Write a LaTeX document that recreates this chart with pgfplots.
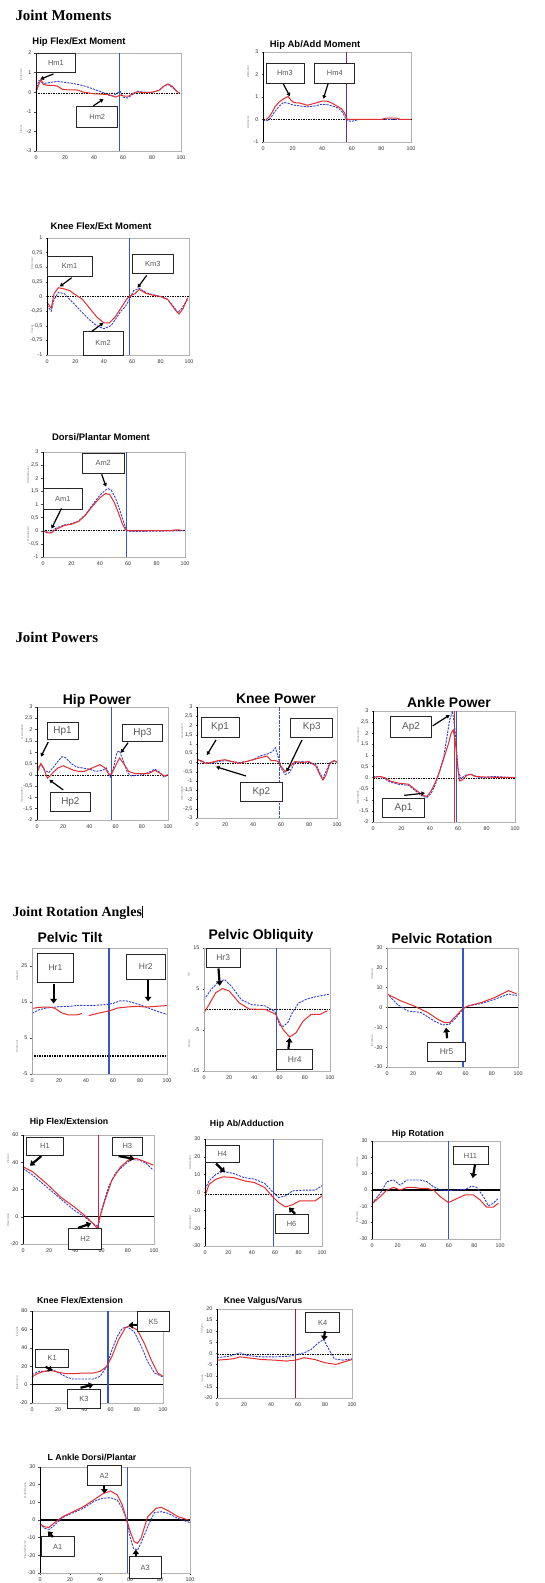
\documentclass[border=0pt]{standalone}
\usepackage{pgfplots}
\pgfplotsset{compat=1.18}
\usepackage{fontspec}
\setmainfont{Liberation Sans}
\newfontfamily\serifb{Liberation Serif}
\usetikzlibrary{arrows.meta}

\definecolor{cred}{RGB}{228,45,45}
\definecolor{cblue}{RGB}{50,60,210}
\definecolor{vblue}{RGB}{55,85,200}
\definecolor{vpurp}{RGB}{110,40,130}
\definecolor{vdred}{RGB}{160,25,65}
\definecolor{vcrim}{RGB}{205,35,65}

\newcommand\tickf{\fontsize{5.4}{5.4}\selectfont}
\newcommand\annf{\fontsize{7.5}{8}\selectfont}
\newcommand\sidef{\fontsize{3}{3}\selectfont}
\newcommand\ttlS{\bfseries\fontsize{9.5}{10}\selectfont}
\newcommand\ttlA{\bfseries\fontsize{8.8}{9}\selectfont}
\newcommand\ttlB{\bfseries\fontsize{14}{14}\selectfont}
\newcommand\secf{\serifb\bfseries\fontsize{15}{15}\selectfont}

\pgfplotsset{
 panel/.style={scale only axis, clip=false, xmin=0, xmax=100, xtick={0,20,40,60,80,100},
  tick pos=left, tick align=outside, major tick length=1.5bp,
  tick style={black!70, line width=0.4bp},
  axis line style={black!30, line width=0.6bp},
  ticklabel style={font=\tickf, text=black!80},
  xticklabel style={yshift=0.5bp}, yticklabel style={xshift=0.5bp},
  /pgf/number format/assume math mode=true, /pgf/number format/use comma,
  anchor=south west},
 rl/.style={cred, line width=1bp, no markers},
 bl/.style={cblue, line width=0.9bp, dash pattern=on 2.2bp off 1.1bp, no markers},
 zl/.style={black, line width=0.9bp, dash pattern=on 1.5bp off 1bp, no markers},
 zs/.style={black, line width=1.1bp, no markers},
 vl/.style={vblue, line width=1.1bp, no markers},
}
\tikzset{
 abox/.style={draw=black!85, line width=0.9bp, fill=white},
 albl/.style={font=\annf, text=black!65},
 ar/.style={-{Triangle[length=3.5bp,width=4bp]}, line width=1.2bp, black},
 bar/.style={-{Triangle[length=4.5bp,width=6.5bp]}, line width=2.2bp, black},
}
\newcommand\ann[5]{\draw[abox] (axis cs:#1,#2) rectangle (axis cs:#3,#4); \path (axis cs:#1,#2) -- node[albl]{#5} (axis cs:#3,#4);}
\newcommand\side[2]{\node[rotate=90,font=\sidef,text=black!50] at ([xshift=-15bp]rel axis cs:0,0.78) {#1}; \node[rotate=90,font=\sidef,text=black!50] at ([xshift=-15bp]rel axis cs:0,0.22) {#2};}
\newcommand\yax[1]{\draw[#1, line width=0.9bp] (rel axis cs:0,0) -- (rel axis cs:0,1);}

\begin{document}
\begin{tikzpicture}
\useasboundingbox (0bp,0bp) rectangle (545bp,1583bp);

% ---------- section headings ----------
\node[font=\secf, anchor=west] at (12bp,1568bp) {Joint Moments};
\node[font=\secf, anchor=west] at (12bp,946bp) {Joint Powers};
\node[font=\serifb\bfseries\fontsize{14}{14}\selectfont, anchor=west] at (9bp,670bp) {Joint Rotation Angles\rule[-1bp]{0.6bp}{12bp}};

% ---------- titles ----------
\node[font=\ttlS] at (79bp,1541bp) {Hip Flex/Ext Moment};
\node[font=\ttlS] at (315bp,1538bp) {Hip Ab/Add Moment};
\node[font=\ttlS] at (101bp,1357bp) {Knee Flex/Ext Moment};
\node[font=\ttlS] at (101bp,1146bp) {Dorsi/Plantar Moment};
\node[font=\ttlB] at (97bp,882bp) {Hip Power};
\node[font=\ttlB] at (276bp,884bp) {Knee Power};
\node[font=\ttlB] at (449bp,880bp) {Ankle Power};
\node[font=\ttlB] at (70bp,645bp) {Pelvic Tilt};
\node[font=\ttlB] at (261bp,647bp) {Pelvic Obliquity};
\node[font=\ttlB] at (442bp,644bp) {Pelvic Rotation};
\node[font=\ttlA] at (69bp,461bp) {Hip Flex/Extension};
\node[font=\ttlA] at (247bp,459bp) {Hip Ab/Adduction};
\node[font=\ttlA] at (418bp,449bp) {Hip Rotation};
\node[font=\ttlA] at (80bp,283bp) {Knee Flex/Extension};
\node[font=\ttlA] at (263bp,282bp) {Knee Valgus/Varus};
\node[font=\ttlA] at (92bp,126bp) {L Ankle Dorsi/Plantar};

% ---------- P1 Hip Flex/Ext Moment ----------
\begin{axis}[panel, at={(36bp,1432bp)}, width=145bp, height=98bp, ymin=-3, ymax=2, ytick={-3,-2,-1,0,1,2}]
\addplot[zl] coordinates {(0,-0.08) (100,-0.08)};
\addplot[vl] coordinates {(57.5,-3) (57.5,2)};
\addplot[bl] coordinates {(0,0.1) (2,0.6) (4,0.5) (6,0.45) (10,0.5) (15,0.55) (20,0.5) (25,0.45) (30,0.38) (35,0.28) (40,0.15) (45,0.02) (50,-0.15) (53,-0.2) (56,-0.05) (58,0.05) (60,-0.25) (63,-0.3) (66,-0.15) (70,0.05) (75,0) (80,-0.02) (85,0.1) (88,0.3) (91,0.4) (94,0.25) (97,0.05) (99,-0.05)};
\addplot[rl] coordinates {(0,0) (2,0.4) (3.5,0.65) (5,0.4) (8,0.35) (12,0.35) (15,0.3) (18,0.15) (22,0.12) (28,0.12) (33,0) (40,-0.08) (45,-0.1) (50,-0.12) (55,-0.25) (58,-0.15) (61,-0.2) (64,-0.2) (67,-0.05) (70,0.02) (74,-0.03) (80,0) (85,0.1) (88,0.3) (91,0.42) (94,0.3) (97,0.05) (99,-0.05)};
\yax{black}
\ann{0}{1}{27.5}{2}{Hm1}
\draw[ar] (axis cs:12,0.93) -- (axis cs:3,0.66);
\ann{28}{-0.75}{56.5}{-1.78}{Hm2}
\draw[ar] (axis cs:39.5,-0.7) -- (axis cs:46.5,-0.35);
\side{Extensor}{Flexor}
\end{axis}

% ---------- P2 Hip Ab/Add Moment ----------
\begin{axis}[panel, at={(263bp,1441bp)}, width=148bp, height=90bp, ymin=-1, ymax=3, ytick={-1,0,1,2,3}]
\addplot[zl] coordinates {(0,0) (100,0)};
\addplot[vpurp, line width=1.1bp] coordinates {(56.5,-1) (56.5,3)};
\addplot[bl] coordinates {(0,-0.05) (3,-0.05) (5,0.05) (8,0.35) (11,0.6) (14,0.76) (17,0.72) (20,0.65) (25,0.6) (30,0.56) (35,0.6) (40,0.68) (44,0.65) (48,0.58) (51,0.5) (54,0.3) (56.5,-0.05) (60,-0.08) (65,0) (100,0)};
\addplot[rl] coordinates {(2,0) (4,0.1) (6,0.3) (8,0.55) (11,0.78) (14,0.92) (17,1.02) (19,0.85) (21,0.75) (25,0.73) (30,0.63) (35,0.72) (40,0.82) (43,0.82) (46,0.75) (50,0.6) (53,0.48) (55,0.3) (57,0) (60,0) (80,0) (83,0.06) (90,0.06) (93,0) (100,0)};
\yax{black}
\ann{2}{1.62}{27.7}{2.51}{Hm3}
\draw[ar] (axis cs:13.7,1.58) -- (axis cs:18.2,1.03);
\ann{35}{1.62}{62}{2.51}{Hm4}
\draw[ar] (axis cs:44,1.6) -- (axis cs:40.8,0.92);
\side{Abductor}{Adductor}
\end{axis}

% ---------- P3 Knee Flex/Ext Moment ----------
\begin{axis}[panel, at={(47bp,1228bp)}, width=142bp, height=117bp, ymin=-1, ymax=1, ytick={-1,-0.75,-0.5,-0.25,0,0.25,0.5,0.75,1}]
\addplot[zl] coordinates {(0,0) (100,0)};
\addplot[vl] coordinates {(58,-1) (58,1)};
\addplot[bl] coordinates {(0,-0.15) (3,-0.25) (5,-0.05) (8,0.07) (12,0.05) (16,-0.05) (20,-0.15) (25,-0.28) (30,-0.4) (35,-0.5) (40,-0.55) (45,-0.5) (48,-0.4) (52,-0.25) (55,-0.18) (58,-0.05) (61,0.1) (65,0.14) (70,0.06) (75,0.03) (80,0) (85,-0.05) (90,-0.2) (92,-0.28) (95,-0.2) (99,-0.05)};
\addplot[rl] coordinates {(0,-0.1) (3,-0.2) (5,0.05) (8,0.15) (12,0.13) (16,0.1) (20,0.03) (25,-0.05) (30,-0.2) (35,-0.35) (40,-0.45) (44,-0.45) (48,-0.35) (52,-0.2) (56,-0.05) (58,0) (62,0.05) (65,0.12) (70,0.05) (75,0.02) (80,0) (85,-0.05) (90,-0.22) (93,-0.3) (96,-0.2) (99,-0.02)};
\yax{black}
\ann{0}{0.35}{31.7}{0.69}{Km1}
\draw[ar] (axis cs:17.4,0.32) -- (axis cs:9,0.17);
\ann{25.4}{-0.6}{53.5}{-1}{Km2}
\draw[ar] (axis cs:31.4,-0.6) -- (axis cs:39.7,-0.45);
\ann{60}{0.4}{89}{0.72}{Km3}
\draw[ar] (axis cs:70.2,0.36) -- (axis cs:63.8,0.15);
\side{Extensor}{Flexor}
\end{axis}

% ---------- P4 Dorsi/Plantar Moment ----------
\begin{axis}[panel, at={(43bp,1026bp)}, width=142bp, height=105bp, ymin=-1, ymax=3, ytick={-1,-0.5,0,0.5,1,1.5,2,2.5,3}]
\addplot[zl] coordinates {(0,0) (100,0)};
\addplot[vl] coordinates {(58.5,-1) (58.5,3)};
\addplot[bl] coordinates {(0,0) (3,-0.05) (6,-0.05) (9,0.1) (15,0.22) (20,0.27) (25,0.37) (30,0.62) (35,1.0) (40,1.35) (44,1.55) (46,1.6) (48,1.55) (51,1.25) (54,0.8) (57,0.3) (59,0) (62,-0.03) (100,0)};
\addplot[rl] coordinates {(0,0) (3,-0.08) (6,-0.08) (9,0.05) (15,0.2) (20,0.25) (25,0.35) (30,0.6) (35,0.95) (40,1.25) (44,1.42) (47,1.38) (50,1.1) (53,0.7) (56,0.25) (58,0.05) (60,0) (90,0) (93,0.03) (96,0.03) (98,0)};
\yax{black}
\ann{0}{0.83}{28}{1.6}{Am1}
\draw[ar] (axis cs:13,0.85) -- (axis cs:6,0.08);
\ann{27.5}{2.2}{57.3}{2.95}{Am2}
\draw[ar] (axis cs:41.3,2.15) -- (axis cs:44.4,1.68);
\side{Plantarflexor}{Dorsiflexor}
\end{axis}

\renewcommand\annf{\fontsize{10}{10}\selectfont}
% ---------- P5 Hip Power ----------
\begin{axis}[panel, at={(37bp,763bp)}, width=131bp, height=113bp, ymin=-2, ymax=3, ytick={-2,-1.5,-1,-0.5,0,0.5,1,1.5,2,2.5,3}]
\addplot[zl] coordinates {(0,-0.05) (100,-0.05)};
\addplot[vl, line width=1.4bp] coordinates {(57,-2) (57,3)};
\addplot[bl] coordinates {(0,0.3) (3,0.45) (6,0.2) (9,0.1) (12,0.3) (16,0.6) (19,0.8) (22,0.75) (26,0.5) (30,0.35) (35,0.3) (40,0.25) (45,0.15) (50,0.2) (53,0.3) (56,-0.1) (58,0.2) (61,1.0) (63,1.05) (66,0.6) (69,0.1) (72,-0.05) (80,0) (85,0.1) (90,0.25) (94,0.1) (97,-0.1) (100,0)};
\addplot[rl] coordinates {(0,0.1) (3,0.5) (5,0.3) (8,-0.15) (10,-0.05) (13,0.15) (16,0.3) (20,0.4) (24,0.3) (28,0.2) (32,0.15) (36,0.15) (40,0.25) (44,0.35) (48,0.45) (52,0.3) (55,0) (57,0.05) (60,0.4) (63,0.75) (66,0.5) (70,0.15) (75,0.05) (80,0.05) (85,0.05) (90,0.2) (93,0.1) (97,-0.05) (100,0)};
\yax{black}
\ann{7.6}{1.55}{31.3}{2.31}{Hp1}
\draw[ar] (axis cs:8.6,1.45) -- (axis cs:3,0.8);
\ann{10}{-0.8}{41}{-1.64}{Hp2}
\draw[ar] (axis cs:20,-0.67) -- (axis cs:9.4,-0.22);
\ann{65}{1.47}{96}{2.22}{Hp3}
\draw[ar] (axis cs:69.5,1.42) -- (axis cs:64,0.97);
\side{Generation}{Absorption}
\end{axis}

% ---------- P6 Knee Power ----------
\begin{axis}[panel, at={(197bp,765bp)}, width=140bp, height=111bp, ymin=-3, ymax=3, ytick={-3,-2.5,-2,-1.5,-1,-0.5,0,0.5,1,1.5,2,2.5,3}]
\addplot[zl] coordinates {(0,-0.05) (100,-0.05)};
\addplot[vl, line width=1.4bp, dash pattern=on 2bp off 0.6bp] coordinates {(59,-3) (59,3)};
\addplot[bl] coordinates {(0,0.2) (3,0.05) (6,0) (10,-0.05) (15,0.05) (20,0.1) (25,0.05) (30,0) (35,0.05) (40,0.15) (45,0.35) (50,0.45) (54,0.6) (56,0.8) (58,0.3) (60,-0.3) (63,-0.65) (66,-0.55) (70,0) (75,0.05) (80,0) (85,-0.1) (88,-0.6) (90,-0.85) (92,-0.5) (95,0) (98,0.1) (100,0)};
\addplot[rl] coordinates {(0,0.15) (3,0.1) (6,-0.05) (10,0) (15,0.1) (20,0.15) (25,0.05) (30,-0.05) (35,0.05) (40,0.15) (45,0.25) (50,0.35) (53,0.1) (56,0.1) (58,0.05) (60,-0.2) (63,-0.5) (66,-0.25) (70,0.05) (75,0) (80,0.05) (85,-0.2) (88,-0.7) (90,-0.95) (92,-0.7) (95,-0.05) (98,0.1) (100,0)};
\yax{black}
\ann{3}{1.38}{30}{2.46}{Kp1}
\draw[ar] (axis cs:13.6,1.22) -- (axis cs:7,0.4);
\ann{31}{-1.1}{61}{-2.1}{Kp2}
\draw[ar] (axis cs:35,-0.73) -- (axis cs:13.6,-0.23);
\ann{67}{1.38}{97}{2.4}{Kp3}
\draw[ar] (axis cs:75,1.22) -- (axis cs:64,-0.5);
\side{Generation}{Absorption}
\end{axis}

% ---------- P7 Ankle Power ----------
\begin{axis}[panel, at={(373bp,761bp)}, width=142bp, height=111bp, ymin=-2, ymax=3, ytick={-2,-1.5,-1,-0.5,0,0.5,1,1.5,2,2.5,3}]
\addplot[zl] coordinates {(0,-0.02) (100,-0.02)};
\addplot[cred, line width=1.1bp] coordinates {(57.5,-2) (57.5,3)};
\addplot[vl, line width=1.3bp] coordinates {(59,-2) (59,3)};
\addplot[bl] coordinates {(0,0.05) (5,0.05) (8,-0.05) (12,-0.2) (18,-0.3) (25,-0.35) (30,-0.6) (35,-0.85) (38,-0.9) (41,-0.7) (44,-0.3) (47,0.3) (50,1.0) (52,1.8) (54,2.6) (56,3.0) (58,2.0) (60,0.3) (62,-0.05) (65,0.1) (68,0.15) (71,0.1) (75,0) (85,0.05) (100,0)};
\addplot[rl] coordinates {(0,0) (5,0.05) (8,0) (12,-0.15) (18,-0.25) (25,-0.3) (30,-0.55) (35,-0.8) (38,-0.85) (41,-0.6) (44,-0.2) (47,0.3) (50,0.9) (53,1.5) (55,2.0) (56.5,2.15) (58,1.6) (60,0.3) (61,-0.15) (63,-0.1) (66,0.1) (69,0.15) (72,0.05) (80,0.02) (100,0)};
\yax{black}
\ann{12}{1.83}{41.5}{2.74}{Ap2}
\draw[ar] (axis cs:42,2.33) -- (axis cs:54,2.82);
\ann{7}{-0.93}{36}{-1.78}{Ap1}
\draw[ar] (axis cs:22,-0.8) -- (axis cs:36.6,-0.7);
\side{Generation}{Absorption}
\end{axis}

\renewcommand\annf{\fontsize{8.5}{9}\selectfont}
% ---------- P8 Pelvic Tilt ----------
\begin{axis}[panel, at={(32bp,509bp)}, width=135bp, height=126bp, ymin=-5, ymax=30, ytick={-5,5,15,25}]
\addplot[zl, line width=1.2bp] coordinates {(0,0) (100,0)};
\addplot[vl] coordinates {(57,-5) (57,30)};
\addplot[bl] coordinates {(0,11.8) (5,12.8) (10,13.3) (15,13.5) (20,13.7) (28,13.8) (35,14.1) (40,14) (48,14.1) (55,14.3) (60,14.6) (65,15.3) (70,15.3) (75,14.8) (80,14.2) (85,13.5) (90,12.8) (95,12.1) (100,11.6)};
\addplot[rl] coordinates {(0,13.2) (5,13.5) (10,13.6) (15,13.5) (18,13) (22,12) (27,11.4) (33,11.4) (37,11.8)};
\addplot[rl] coordinates {(42,11.2) (48,11.8) (53,12.2) (58,12.6) (63,13.3) (70,13.6) (78,13.8) (85,13.6) (92,13.8) (100,14)};
\yax{black!35}
\ann{3.7}{20.3}{31}{28.6}{Hr1}
\draw[bar] (axis cs:16,20) -- (axis cs:16,14.6);
\ann{70}{21.4}{98.5}{28.3}{Hr2}
\draw[bar] (axis cs:86,21.1) -- (axis cs:86,15.2);
\side{Anterior}{Posterior}
\end{axis}

% ---------- P9 Pelvic Obliquity ----------
\begin{axis}[panel, at={(204bp,512bp)}, width=126bp, height=123bp, ymin=-15, ymax=15, ytick={-15,-5,5,15}]
\addplot[zl, line width=1.2bp] coordinates {(0,0) (100,0)};
\addplot[vl, line width=0.8bp] coordinates {(57.6,-15) (57.6,15)};
\addplot[bl] coordinates {(0,2.4) (5.7,4.9) (11,6.6) (16.3,7.3) (21.7,5.7) (29.6,2.4) (37.6,1.2) (48.3,0.9) (56.3,-0.5) (60.3,-3.9) (63,-4.1) (66.7,-3.1) (70,-0.8) (75.2,1.6) (82,2.6) (88.5,3.1) (99,3.7)};
\addplot[rl] coordinates {(0,-0.8) (4,1.2) (9.3,4.1) (14.7,5.1) (20,4.5) (28,1.6) (36,0.1) (49,0) (57,-1.2) (62.7,-4.9) (68,-6.7) (73,-5.7) (78.7,-2.8) (85,-1.2) (92,-1.2) (98,-0.3)};
\yax{black!35}
\ann{1.6}{10.3}{28.8}{14.9}{Hr3}
\draw[bar] (axis cs:11.5,10) -- (axis cs:12.5,5.8);
\ann{57.6}{-9.7}{86.4}{-14.6}{Hr4}
\draw[bar] (axis cs:67,-9.6) -- (axis cs:68,-6.9);
\side{Up}{Down}
\end{axis}

% ---------- P10 Pelvic Rotation ----------
\begin{axis}[panel, at={(387bp,516bp)}, width=131bp, height=119bp, ymin=-30, ymax=30, ytick={-30,-20,-10,0,10,20,30}]
\addplot[zs, line width=1.3bp] coordinates {(0,0) (100,0)};
\addplot[vl] coordinates {(58,-30) (58,30)};
\addplot[bl] coordinates {(0,7.1) (7.7,1.7) (15.5,-1.7) (25.8,-2.5) (36,-6.8) (42.5,-8.8) (47.7,-8.5) (52.8,-5.1) (58,-0.8) (61.9,0.8) (72,2) (82.5,4.2) (92.8,6.8) (99,5.9)};
\addplot[rl] coordinates {(0,6.8) (10.3,3.4) (20.6,0.8) (31,-2.5) (38.7,-5.9) (43.8,-7.6) (47.7,-7.6) (52.8,-4.2) (58,-0.5) (61.9,0.8) (72,2.5) (82.5,5.1) (92.8,8.5) (99,6.8)};
\yax{black!35}
\ann{31}{-17.8}{60}{-27.1}{Hr5}
\draw[bar] (axis cs:45.9,-15.5) -- (axis cs:45.1,-10.2);
\side{Internal}{External}
\end{axis}

\renewcommand\annf{\fontsize{7.5}{8}\selectfont}
% ---------- P11 Hip Flex/Extension ----------
\begin{axis}[panel, at={(23bp,339bp)}, width=131bp, height=109bp, ymin=-20, ymax=60, ytick={-20,0,20,40,60}]
\addplot[zs] coordinates {(0,0) (100,0)};
\addplot[vcrim, line width=1.3bp] coordinates {(57.5,-20) (57.5,60)};
\addplot[bl] coordinates {(0,35.5) (7.4,30.6) (17.9,22) (28.4,13.4) (39,4.9) (46.8,0) (53.4,-4.9) (57.4,-7.3) (60,4.9) (65.3,22) (70.5,31.8) (75.8,36.7) (82.4,42) (89,41.6) (94.2,39) (99.5,34.2)};
\addplot[rl] coordinates {(0,36.7) (7.4,33) (17.9,24.4) (28.4,14.7) (39,7.3) (46.8,1.2) (53.4,-4.9) (56.8,-8.6) (58,-2.4) (62.6,12.2) (67.9,26.9) (74.5,36.7) (81,42) (86.3,42.8) (91.6,41) (99.5,37.9)};
\yax{black}
\ann{3}{45.2}{30.5}{58.2}{H1}
\draw[bar] (axis cs:14,44.5) -- (axis cs:5.3,37.5);
\ann{35}{-8.6}{60}{-24}{H2}
\draw[bar] (axis cs:42,-8.2) -- (axis cs:52,-4.9);
\ann{68}{45.2}{91.3}{58.2}{H3}
\draw[bar] (axis cs:73,44.5) -- (axis cs:85,42.5);
\side{Flexion}{Extension}
\end{axis}

% ---------- P12 Hip Ab/Adduction ----------
\begin{axis}[panel, at={(205bp,337bp)}, width=117bp, height=107bp, ymin=-30, ymax=30, ytick={-30,-20,-10,0,10,20,30}]
\addplot[zl, line width=1.1bp] coordinates {(0,-1) (100,-1)};
\addplot[vl] coordinates {(58.5,-30) (58.5,30)};
\addplot[bl] coordinates {(0,1.9) (3.6,6.6) (9.5,10.3) (15.4,11.8) (24.3,10.7) (33.2,8.4) (42.1,7.5) (51,5.1) (57,0.9) (62.9,-2.8) (68.8,-1.9) (74.8,0.9) (83.7,1.3) (94,1.3) (100,3.8)};
\addplot[rl] coordinates {(0,-1.9) (3.6,4.7) (9.5,7.5) (15.4,8.8) (24.3,8.4) (33.2,6.6) (42.1,5.6) (51,2.8) (57,-1.9) (62.9,-5.6) (68.8,-8.1) (74.8,-6.9) (80.7,-4.7) (86.6,-4.7) (94,-4.7) (100,-1.9)};
\yax{black}
\ann{0}{16.9}{29.6}{26.3}{H4}
\draw[bar] (axis cs:9.5,16.2) -- (axis cs:17,11.3);
\ann{60}{-12.2}{88}{-23}{H6}
\draw[bar] (axis cs:77,-12) -- (axis cs:71.8,-8.4);
\side{Adduction}{Abduction}
\end{axis}

% ---------- P13 Hip Rotation ----------
\begin{axis}[panel, at={(372bp,344bp)}, width=128bp, height=98bp, ymin=-30, ymax=30, ytick={-30,-20,-10,0,10,20,30}]
\addplot[zs, line width=1.2bp] coordinates {(0,0) (100,0)};
\addplot[vl] coordinates {(60,-30) (60,30)};
\addplot[bl] coordinates {(0,-8.1) (6.5,-2) (11.7,5.1) (16.9,6.1) (22,3) (27.3,6.1) (37.7,6.1) (42.9,5.1) (48,2) (53.2,0) (59.7,-0.4) (66.2,0) (72.7,0.4) (78,2.4) (81.8,1.6) (87,-4) (90.9,-9.7) (94.8,-8.1) (98.7,-5.1)};
\addplot[rl] coordinates {(0,-8.5) (6.5,-4) (11.7,0) (16.9,1.6) (22,0) (27.3,1.6) (32.5,1.6) (37.7,1) (42.9,1) (48,0) (53.2,-4) (59.7,-7.7) (66.2,-5.3) (72.7,-3) (79.2,-3) (84.4,-6.1) (89.6,-10.5) (94.8,-10.5) (98.7,-8.1)};
\yax{black}
\ann{63.4}{15.8}{90.6}{26.4}{H11}
\draw[bar] (axis cs:80.5,15.6) -- (axis cs:78.7,7.3);
\side{Internal}{External}
\end{axis}

% ---------- P14 Knee Flex/Extension ----------
\begin{axis}[panel, at={(32bp,180bp)}, width=131bp, height=92bp, ymin=-20, ymax=80, ytick={-20,0,20,40,60,80}]
\addplot[zs, line width=1.3bp] coordinates {(0,0) (100,0)};
\addplot[vl, dash pattern=on 1.5bp off 0.5bp] coordinates {(58,-20) (58,80)};
\addplot[bl] coordinates {(0,10.8) (5.2,14.4) (10.4,14.4) (15.6,16.2) (20.8,12.6) (26,8.3) (31,6.1) (39,6.1) (46.8,6.1) (52,9) (57,19.7) (61,37.7) (65,52) (68.8,61) (72.7,62.8) (78,57.5) (83,43) (88.3,25.1) (93.5,12.6) (100,8.3)};
\addplot[rl] coordinates {(0,8.3) (3.9,11.8) (9,14.4) (14.3,15.4) (20.8,13.3) (26,11.8) (31,11.8) (39,12.6) (46.8,12.6) (52,14.4) (57,19.7) (61,30.5) (66,48.5) (71.4,62) (75.3,63.6) (80.5,59.2) (85.7,44.9) (91,26.9) (96,12.6) (100,9)};
\yax{black}
\ann{3}{19}{28}{38.4}{K1}
\draw[bar] (axis cs:10.4,19.5) -- (axis cs:15.6,14.8);
\ann{27.3}{-5.4}{52}{-26}{K3}
\draw[bar] (axis cs:37,-3.5) -- (axis cs:46.8,0);
\ann{80.5}{57.4}{105}{79}{K5}
\draw[bar] (axis cs:80.5,64.6) -- (axis cs:73.5,64.6);
\side{Flexion}{Extension}
\end{axis}

% ---------- P15 Knee Valgus/Varus ----------
\begin{axis}[panel, at={(217bp,185bp)}, width=135bp, height=89bp, ymin=-20, ymax=20, ytick={-20,-15,-10,-5,0,5,10,15,20}]
\addplot[zl, line width=1.1bp] coordinates {(0,-0.5) (100,-0.5)};
\addplot[vdred, line width=1.2bp] coordinates {(58.4,-20) (58.4,20)};
\addplot[bl] coordinates {(0,-1.9) (9.2,-1.2) (17.1,0.3) (22.4,-0.9) (32.9,-1.5) (43.4,-1.5) (54,-1.2) (59.2,-0.4) (64.5,0.3) (69.7,1.8) (75,4.8) (79,6.3) (82.9,1.8) (86.8,-2.4) (93.4,-3) (100,-2.4)};
\addplot[rl] coordinates {(0,-3) (6.6,-2.7) (11.8,-2.4) (17.1,-1.5) (22.4,-1.9) (32.9,-2.7) (43.4,-3) (51.3,-3.4) (57.9,-3) (64.5,-1.9) (72.4,-2.7) (80.3,-4.2) (88.2,-4.9) (93.4,-3.9) (100,-2.7)};
\yax{black}
\ann{65.8}{9.3}{90.8}{18.3}{K4}
\draw[bar] (axis cs:80,10) -- (axis cs:79,5.9);
\side{Valgus}{Varus}
\end{axis}

% ---------- P16 L Ankle Dorsi/Plantar ----------
\begin{axis}[panel, at={(40bp,10bp)}, width=150bp, height=106bp, ymin=-30, ymax=30, ytick={-30,-20,-10,0,10,20,30}]
\addplot[zs, line width=1.3bp] coordinates {(0,0) (100,0)};
\addplot[vl] coordinates {(58.2,-30) (58.2,30)};
\addplot[bl] coordinates {(0,-1.9) (2.9,-4.7) (6.3,-5.3) (9.7,-2.8) (15.3,1.5) (22.1,4.2) (28.9,6.6) (35.7,10.4) (41.3,12.3) (47,12.6) (51.5,11.3) (54.9,6.6) (57.8,0) (60,-9.4) (62.3,-16) (65,-17) (67.3,-13.2) (71.8,-3.8) (76.3,4.2) (80.8,4.7) (85.3,3.8) (92,0.9) (100,-1.5)};
\addplot[rl] coordinates {(0,-2.3) (2.9,-3.8) (5.9,-4.2) (9.7,-1.5) (15.3,1.9) (22.1,4.7) (28.9,7.5) (35.7,11.3) (42.4,15.1) (47,16.4) (51.5,14.2) (54.9,8.5) (57.8,0) (60.5,-7.5) (62.8,-12.3) (65,-13.2) (67.3,-10.4) (71.8,1.9) (77.4,6.6) (80.8,7.2) (85.3,5.3) (92,1.9) (98.9,0)};
\yax{black}
\ann{0.7}{-9.4}{23}{-20.8}{A1}
\draw[bar] (axis cs:8.6,-9.6) -- (axis cs:5.2,-6.4);
\ann{31.6}{19.8}{54}{30.6}{A2}
\draw[bar] (axis cs:42.9,20) -- (axis cs:42.9,15);
\ann{59.4}{-20.8}{81}{-33}{A3}
\draw[bar] (axis cs:63.9,-20.2) -- (axis cs:63.9,-16.8);
\side{Dorsiflexion}{Plantarflexion}
\end{axis}

\end{tikzpicture}
\end{document}
